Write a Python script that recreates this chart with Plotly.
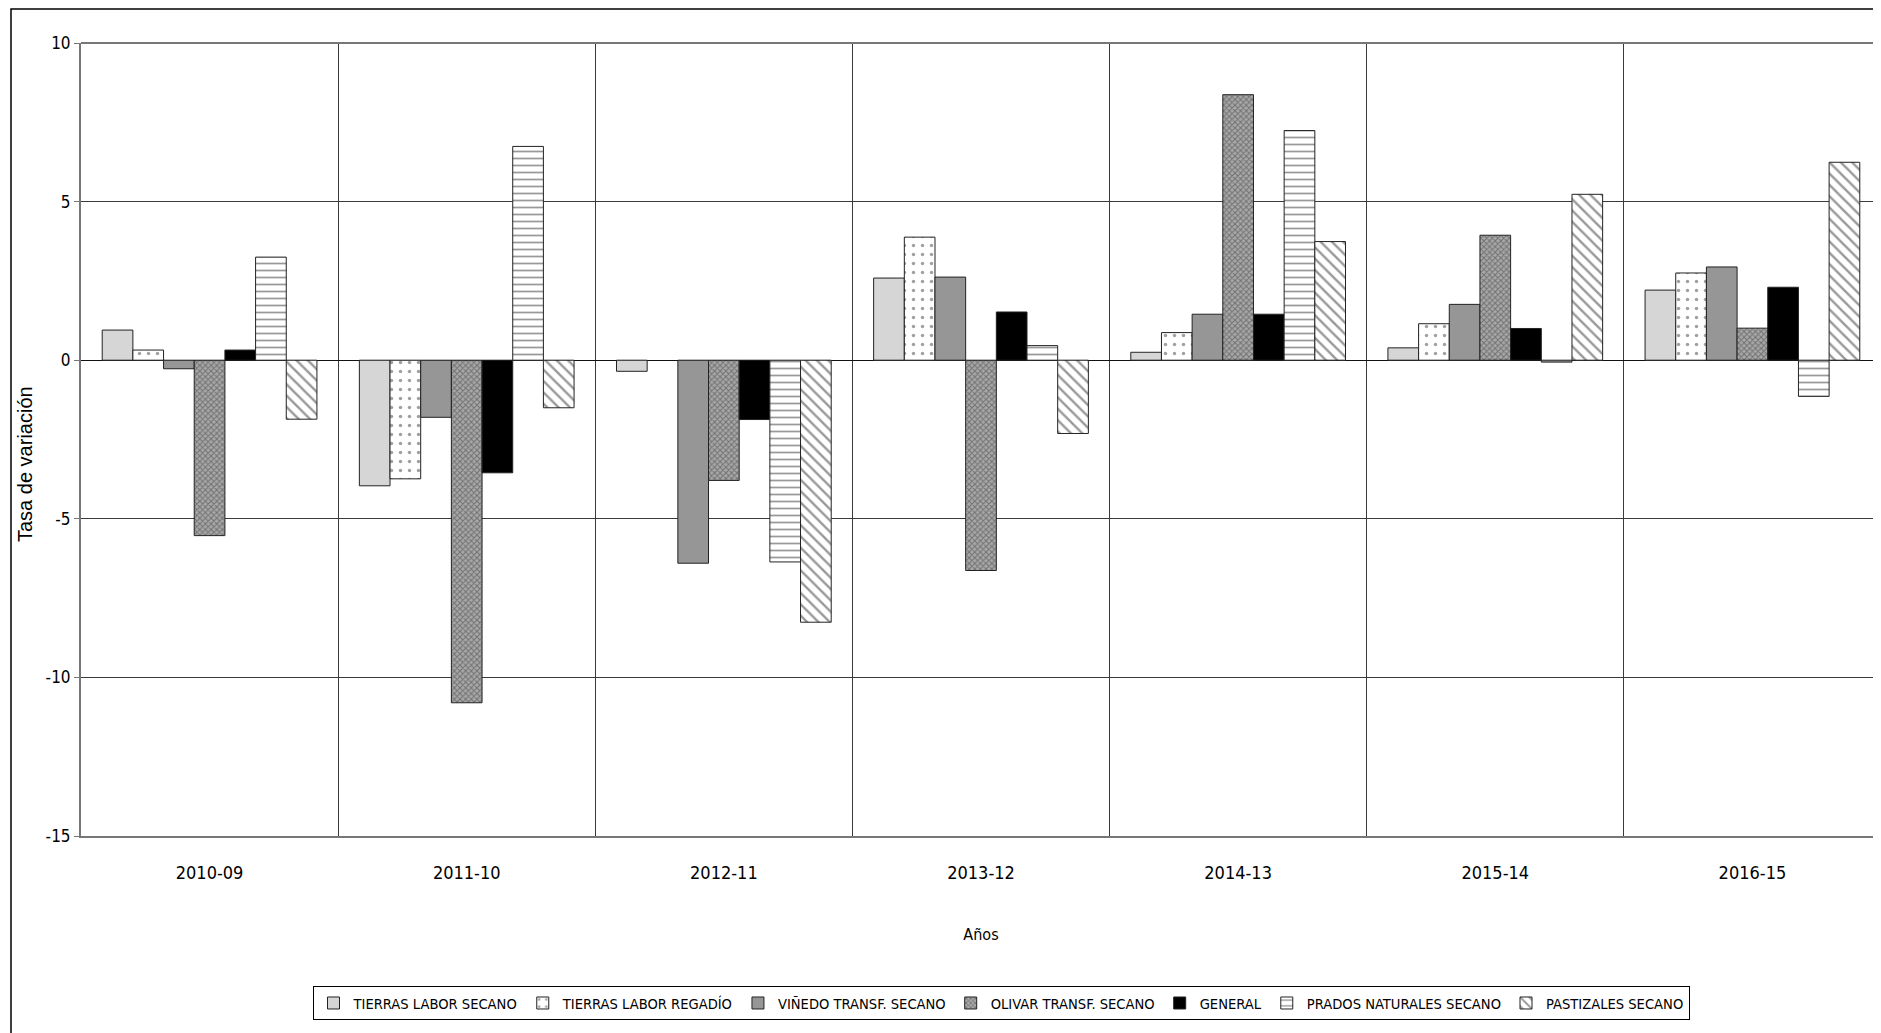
import plotly.graph_objects as go

categories = ["2010-09", "2011-10", "2012-11", "2013-12", "2014-13", "2015-14", "2016-15"]
series_names = [
    "TIERRAS LABOR SECANO",
    "TIERRAS LABOR REGADÍO",
    "VIÑEDO TRANSF. SECANO",
    "OLIVAR TRANSF. SECANO",
    "GENERAL",
    "PRADOS NATURALES SECANO",
    "PASTIZALES SECANO",
]
tierras_labor_secano = [0.95, -3.96, -0.35, 2.59, 0.25, 0.39, 2.21]
tierras_labor_regadio = [0.32, -3.74, None, 3.88, 0.87, 1.15, 2.75]
vinedo_transf_secano = [-0.27, -1.80, -6.40, 2.62, 1.45, 1.76, 2.94]
olivar_transf_secano = [-5.53, -10.80, -3.79, -6.63, 8.37, 3.94, 1.01]
general = [0.32, -3.55, -1.87, 1.52, 1.45, 1.00, 2.30]
prados_naturales_secano = [3.25, 6.74, -6.36, 0.46, 7.24, -0.06, -1.14]
pastizales_secano = [-1.86, -1.50, -8.26, -2.31, 3.74, 5.23, 6.24]

y_ticks = [10, 5, 0, -5, -10, -15]

values = [
    tierras_labor_secano,
    tierras_labor_regadio,
    vinedo_transf_secano,
    olivar_transf_secano,
    general,
    prados_naturales_secano,
    pastizales_secano,
]

styles = [
    dict(color="#d6d6d6", pattern=dict(shape="")),
    dict(color="white", pattern=dict(shape=".", fgcolor="#444444", bgcolor="white", size=9, solidity=0.12)),
    dict(color="#969696", pattern=dict(shape="")),
    dict(color="#9a9a9a", pattern=dict(shape="x", fgcolor="#3a3a3a", bgcolor="#a8a8a8", size=4, solidity=0.45)),
    dict(color="black", pattern=dict(shape="")),
    dict(color="white", pattern=dict(shape="-", fgcolor="#333333", bgcolor="white", size=7, solidity=0.25)),
    dict(color="white", pattern=dict(shape="\\", fgcolor="#333333", bgcolor="white", size=8, solidity=0.3)),
]

NARROW = "DejaVu Sans Condensed, Liberation Sans Narrow, sans-serif"
REG = "Liberation Sans, Arial, sans-serif"

fig = go.Figure()
for name, vals, st in zip(series_names, values, styles):
    fig.add_trace(go.Bar(
        name=name, x=categories, y=vals,
        marker=dict(color=st["color"], pattern=st["pattern"],
                    line=dict(color="#222222", width=1)),
    ))

OFF = 8  # page body margin
W, H = 1873, 1025
L, R, T = 73, 0, 35
B = H - (836 - OFF)
pw, ph = W - L - R, H - T - B


def px(page_x):
    return (page_x - OFF - L) / pw


def py(page_y):
    return (836 - page_y) / ph


fig.update_layout(
    width=W, height=H,
    margin=dict(l=L, r=R, t=T, b=B, autoexpand=False),
    paper_bgcolor="white", plot_bgcolor="white",
    barmode="group", bargap=0.165, bargroupgap=0,
    font=dict(family=NARROW, color="black"),
    showlegend=True,
    legend=dict(
        orientation="h", x=px(1001), xanchor="center", y=py(986), yanchor="top",
        bordercolor="black", borderwidth=1, bgcolor="white",
        font=dict(family=NARROW, size=14.6, color="black"),
        itemwidth=30, traceorder="normal",
    ),
    xaxis=dict(
        type="category", tickson="boundaries", showgrid=True,
        gridcolor="#3a3a3a", gridwidth=1, ticks="",
        showline=True, linecolor="#777777", linewidth=2,
        tickfont=dict(family=NARROW, size=18, color="black"),
        ticklabelstandoff=19,
        title=dict(text="Años", font=dict(family=NARROW, size=16, color="black"), standoff=47),
        zeroline=False,
    ),
    yaxis=dict(
        range=[-15, 10], tickvals=y_ticks, ticktext=[str(v) for v in y_ticks],
        showgrid=True, gridcolor="#3a3a3a", gridwidth=1,
        zeroline=True, zerolinecolor="#111111", zerolinewidth=1,
        showline=True, linecolor="#777777", linewidth=2,
        ticks="outside", ticklen=5, tickcolor="#777777",
        tickfont=dict(family=NARROW, size=17, color="black"),
    ),
    annotations=[
        dict(text="Tasa de variación", xref="paper", yref="paper",
             x=px(25), y=py(464), xanchor="center", yanchor="middle",
             textangle=-90, showarrow=False,
             font=dict(family=REG, size=20, color="black")),
    ],
    shapes=[
        dict(type="rect", xref="paper", yref="paper",
             x0=px(11), x1=px(1900), y0=py(1045), y1=py(9),
             line=dict(color="black", width=1.5), fillcolor="rgba(0,0,0,0)", layer="below"),
        dict(type="line", xref="paper", yref="paper", x0=0, x1=1, y0=1, y1=1,
             line=dict(color="#777777", width=2)),
    ],
)

fig.write_html("out.html")
